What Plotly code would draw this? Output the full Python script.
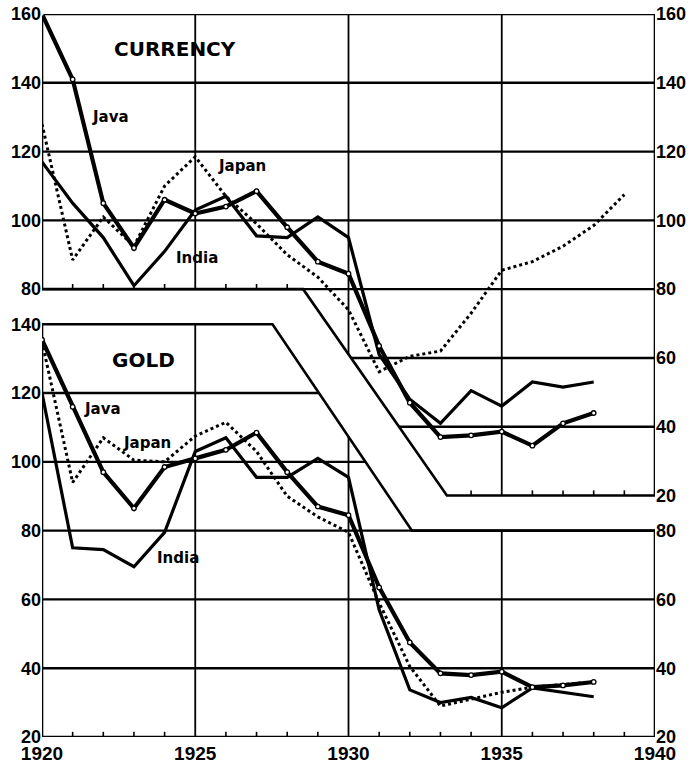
import plotly.graph_objects as go

# ---------------- data (index numbers) ----------------
cur_years = list(range(1920, 1939))
java_cur = [160, 141, 105, 92, 106, 102, 104, 108.5, 98, 88, 84.5, 63.5, 47, 37, 37.5, 38.6, 34.5, 41, 44]
india_cur = [117, 105, 95, 81, 91, 103, 107, 95.5, 95, 101, 95, 61, 48, 41, 50.5, 46, 53, 51.5, 53]
japan_years = list(range(1920, 1940))
japan_cur = [128, 88.5, 101, 92.5, 110, 118.5, 107, 99, 90, 83.5, 74, 56, 60.5, 62, 73, 85.5, 88, 92.5, 98.5, 107.5]

gold_years = list(range(1920, 1939))
java_gold = [135.5, 116, 97, 86.5, 98.5, 101, 103.5, 108.5, 97, 87, 84.5, 63.5, 47.5, 38.5, 38, 39, 34.5, 35, 36]
india_gold = [120, 75, 74.5, 69.5, 79.5, 103, 107, 95.5, 95.5, 101, 95.5, 57, 33.7, 30, 31.5, 28.5, 34.3, 33, 31.7]
japan_gold = [135, 94, 107, 100.5, 100, 107.5, 111.5, 103, 90, 84, 79.5, 59, 40.5, 29, 31, 33, 34.5, 35.2, 36, 36]

x_ticks = [1920, 1925, 1930, 1935, 1940]
cur_left_ticks = [80, 100, 120, 140, 160]
cur_right_ticks = [20, 40, 60, 80, 100, 120, 140, 160]
gold_left_ticks = [20, 40, 60, 80, 100, 120, 140]
gold_right_ticks = [20, 40, 60, 80]

# ---------------- geometry ----------------
CUR_RANGE = [-50.2, 160]
GOLD_RANGE = [20, 230.2]
cur_diag = (1928.52, 80, 1933.21, 20)
gold_diag = (1927.52, 140, 1932.07, 80)

BLK = "black"
fig = go.Figure()

def add_line(x, y, yaxis, width, dash="solid", markers=False):
    fig.add_trace(go.Scatter(
        x=x, y=y, yaxis=yaxis, mode="lines+markers" if markers else "lines",
        line=dict(color=BLK, width=width, dash=dash),
        marker=dict(symbol="circle", size=4.5, color="white", line=dict(color=BLK, width=1.3)),
        showlegend=False, hoverinfo="skip"))

add_line(japan_years, japan_cur, "y", 3, "dot")
add_line(cur_years, india_cur, "y", 3.2)
add_line(cur_years, java_cur, "y", 4.2, markers=True)
add_line(gold_years, japan_gold, "y2", 3, "dot")
add_line(gold_years, india_gold, "y2", 3.2)
add_line(gold_years, java_gold, "y2", 4.2, markers=True)

shapes = []
def seg(x0, y0, x1, y1, yref, w=2.4):
    shapes.append(dict(type="line", xref="x", yref=yref, x0=x0, y0=y0, x1=x1, y1=y1,
                       line=dict(color=BLK, width=w), layer="below"))

def path(pts, yref, w=2.6):
    d = "M " + " L ".join(f"{a},{b}" for a, b in pts) + " Z"
    shapes.append(dict(type="path", xref="x", yref=yref, path=d,
                       line=dict(color=BLK, width=w), layer="below"))

path([(1920, 160), (1940, 160), (1940, 20), (cur_diag[2], 20), (cur_diag[0], 80), (1920, 80)], "y")
path([(1920, 20), (1940, 20), (1940, 80), (gold_diag[2], 80), (gold_diag[0], 140), (1920, 140)], "y2")

def cur_diag_x(v):
    return cur_diag[0] + (80 - v) * (cur_diag[2] - cur_diag[0]) / 60.0
def cur_diag_v(x):
    return 80 - (x - cur_diag[0]) * 60.0 / (cur_diag[2] - cur_diag[0])
def gold_diag_x(v):
    return gold_diag[0] + (140 - v) * (gold_diag[2] - gold_diag[0]) / 60.0
def gold_diag_v(x):
    return 140 - (x - gold_diag[0]) * 60.0 / (gold_diag[2] - gold_diag[0])

for v in (140, 120, 100, 80):
    seg(1920, v, 1940, v, "y")
for v in (60, 40):
    seg(cur_diag_x(v), v, 1940, v, "y")
seg(1925, 80, 1925, 160, "y", 1.8)
seg(1930, cur_diag_v(1930), 1930, 160, "y", 1.8)
seg(1935, 20, 1935, 160, "y", 1.8)

for v in (120, 100):
    seg(1920, v, gold_diag_x(v), v, "y2")
for v in (80, 60, 40):
    seg(1920, v, 1940, v, "y2")
seg(1925, 20, 1925, 140, "y2", 1.8)
seg(1930, 20, 1930, gold_diag_v(1930), "y2", 1.8)
seg(1935, 20, 1935, 80, "y2", 1.8)

TL = 1.5
for yr in (1921, 1922, 1923, 1924, 1926, 1927, 1928):
    seg(yr, 80, yr, 80 + TL, "y", 1.6)
for yr in (1934, 1936, 1937, 1938, 1939):
    seg(yr, 20, yr, 20 + TL, "y", 1.6)
for yr in range(1921, 1940):
    if yr % 5:
        seg(yr, 20, yr, 20 + TL, "y2", 1.6)

LBL = dict(family="DejaVu Sans", size=15, color=BLK, weight="bold")
TTL = dict(family="DejaVu Sans", size=20, color=BLK, weight="bold")
ann = []
def note(text, x, y, yref, font):
    ann.append(dict(text=text, x=x, y=y, xref="x", yref=yref, showarrow=False,
                    font=font, xanchor="center", yanchor="middle"))

note("CURRENCY", 1924.34, 149.7, "y", TTL)
note("Java", 1922.25, 130.0, "y", LBL)
note("Japan", 1926.53, 115.8, "y", LBL)
note("India", 1925.06, 89.1, "y", LBL)
note("GOLD", 1923.30, 129.6, "y2", TTL)
note("Java", 1921.96, 115.3, "y2", LBL)
note("Japan", 1923.43, 105.5, "y2", LBL)
note("India", 1924.44, 72.0, "y2", LBL)

TICKF = dict(family="Liberation Sans", size=18, color=BLK, weight="bold")
common_y = dict(showgrid=False, zeroline=False, showline=False, ticks="", ticklen=0,
                tickfont=TICKF, fixedrange=True, automargin=False)

fig.update_layout(
    width=694, height=766, autosize=False,
    margin=dict(l=42, r=39, t=14, b=29, pad=0, autoexpand=False),
    paper_bgcolor="white", plot_bgcolor="white",
    showlegend=False,
    shapes=shapes, annotations=ann,
    xaxis=dict(range=[1920, 1940], tickvals=x_ticks, ticktext=[str(t) for t in x_ticks],
               showgrid=False, zeroline=False, showline=False, ticks="", automargin=False,
               ticklabelstandoff=3, fixedrange=True,
               tickfont=dict(family="Liberation Sans", size=19, color=BLK, weight="bold")),
    yaxis=dict(range=CUR_RANGE, tickvals=cur_left_ticks, side="left", **common_y),
    yaxis2=dict(range=GOLD_RANGE, tickvals=gold_left_ticks, side="left", overlaying="y", **common_y),
    yaxis3=dict(range=CUR_RANGE, tickvals=cur_right_ticks, side="right", overlaying="y", **common_y),
    yaxis4=dict(range=GOLD_RANGE, tickvals=gold_right_ticks, side="right", overlaying="y", **common_y),
)
fig.add_trace(go.Scatter(x=[1920], y=[20], yaxis="y3", mode="markers", marker=dict(opacity=0),
                         showlegend=False, hoverinfo="skip"))
fig.add_trace(go.Scatter(x=[1920], y=[20], yaxis="y4", mode="markers", marker=dict(opacity=0),
                         showlegend=False, hoverinfo="skip"))

fig.write_html("out.html", config={"displayModeBar": False, "staticPlot": True},
               post_script="document.body.style.margin='0';document.body.style.overflow='hidden';")
